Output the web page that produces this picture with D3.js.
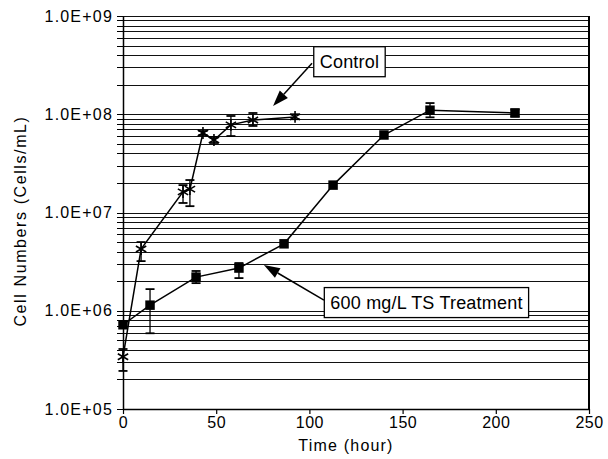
<!DOCTYPE html>
<html>
<head>
<meta charset="utf-8">
<script src="https://cdn.jsdelivr.net/npm/d3@7"></script>
<style>
  body { margin: 0; background: #fff; }
  svg { font-family: "Liberation Sans", Arial, sans-serif; }
</style>
</head>
<body>
<div id="vis"></div>
<script>
// Control (asterisks)
var ctrlTime = [0, 9.7, 32.2, 35.9, 42.9, 48.8, 57.9, 69.7, 92.3];
var ctrlVal  = [3.4e5, 4.25e6, 1.62e7, 1.73e7, 6.44e7, 5.47e7, 7.8e7, 8.73e7, 9.4e7];
var ctrlHi   = [4.08e5, 5.0e6, 1.9e7, 2.14e7, 6.75e7, 5.87e7, 9.6e7, 1.03e8, 1.0e8];
var ctrlLo   = [2.44e5, 3.2e6, 1.25e7, 1.16e7, 6.15e7, 5.1e7, 6.0e7, 7.6e7, 8.9e7];

// 600 mg/L TS treatment (squares)
var trtTime = [0, 14.5, 39.2, 62.2, 86.4, 112.7, 140, 164.7, 210.3];
var trtVal  = [7.2e5, 1.14e6, 2.2e6, 2.72e6, 4.8e6, 1.9e7, 6.15e7, 1.1e8, 1.03e8];
var trtHi   = [7.2e5, 1.66e6, 2.54e6, 3.06e6, 4.8e6, 1.9e7, 6.15e7, 1.3e8, 1.12e8];
var trtLo   = [7.2e5, 5.9e5, 1.91e6, 2.15e6, 4.8e6, 1.9e7, 6.15e7, 9.3e7, 9.5e7];

var xTicks = [0, 50, 100, 150, 200, 250];
var yTicks = [1e5, 1e6, 1e7, 1e8, 1e9];
var yTickLabels = ['1.0E+05', '1.0E+06', '1.0E+07', '1.0E+08', '1.0E+09'];

var width = 608, height = 459,
    margin = {top: 16, right: 19, bottom: 50, left: 123};
var w = width - margin.left - margin.right,
    h = height - margin.top - margin.bottom;

var xScale = d3.scaleLinear().domain([0, 250]).range([0, w]);
var yScale = d3.scaleLog().domain([1e5, 1e9]).range([h, 0]);

var svg = d3.select('#vis').append('svg')
    .attr('width', width).attr('height', height);
var g = svg.append('g')
    .attr('transform', 'translate(' + margin.left + ',' + margin.top + ')');

//grid: every minor log step
var gridVals = [];
for (var e = 5; e < 9; e++) {
  for (var k = 1; k < 10; k++) gridVals.push(k * Math.pow(10, e));
}
gridVals.push(1e9);

g.append('g').attr('class', 'grid y')
  .call(d3.axisLeft(yScale).tickValues(gridVals).tickSize(-w).tickFormat('').tickSizeOuter(0))
  .call(function(s){ s.select('.domain').remove(); })
  .selectAll('line').attr('stroke', '#111').attr('stroke-width', 1)
  .attr('shape-rendering', 'crispEdges');

// short ticks sticking out left of the axis
g.append('g').attr('class', 'axis y')
  .call(d3.axisLeft(yScale).tickValues(gridVals).tickSize(6).tickFormat('').tickSizeOuter(0))
  .call(function(s){ s.select('.domain').attr('stroke', '#000').attr('stroke-width', 1.5); })
  .selectAll('line').attr('stroke', '#000').attr('shape-rendering', 'crispEdges');

g.append('g').attr('class', 'axis y labels')
  .call(d3.axisLeft(yScale).tickValues(yTicks).tickSize(0).tickPadding(10)
        .tickFormat(function(d, i){ return yTickLabels[i]; }))
  .call(function(s){ s.select('.domain').remove(); })
  .selectAll('text')
  .attr('font-size', 16).attr('letter-spacing', 1.2).attr('fill', '#000')
  .attr('font-family', '"Liberation Sans", Arial, sans-serif');

g.append('g').attr('class', 'axis x')
  .attr('transform', 'translate(0,' + h + ')')
  .call(d3.axisBottom(xScale).tickValues(xTicks).tickSize(5).tickPadding(3).tickSizeOuter(0))
  .call(function(s){ s.select('.domain').attr('stroke', '#000').attr('stroke-width', 1.5); })
  .call(function(s){ s.selectAll('line').attr('stroke', '#000').attr('stroke-width', 1.2); })
  .selectAll('text')
  .attr('font-size', 16).attr('letter-spacing', 0.5).attr('fill', '#000')
  .attr('font-family', '"Liberation Sans", Arial, sans-serif');

// right frame
g.append('line')
  .attr('x1', xScale(250)).attr('x2', xScale(250))
  .attr('y1', yScale(1e9)).attr('y2', yScale(1e5))
  .attr('stroke', '#000').attr('stroke-width', 2);

//axis titles
svg.append('text')
  .attr('x', margin.left + xScale(125) - 10).attr('y', 451)
  .attr('text-anchor', 'middle').attr('font-size', 16).attr('letter-spacing', 1.2)
  .text('Time (hour)');
svg.append('text')
  .attr('transform', 'translate(26,' + 221 + ') rotate(-90)')
  .attr('text-anchor', 'middle').attr('font-size', 16).attr('letter-spacing', 1.6)
  .text('Cell Numbers (Cells/mL)');

// series
function makeSeries(t, v, hi, lo) {
  return t.map(function(d, i){ return {t: d, v: v[i], hi: hi[i], lo: lo[i]}; });
}
var ctrl = makeSeries(ctrlTime, ctrlVal, ctrlHi, ctrlLo);
var trt = makeSeries(trtTime, trtVal, trtHi, trtLo);

var line = d3.line()
  .x(function(d){ return xScale(d.t); })
  .y(function(d){ return yScale(d.v); });

function drawSeries(data, symbolType, symSize, filled) {
  var sg = g.append('g');
  sg.append('path').attr('d', line(data))
    .attr('fill', 'none').attr('stroke', '#000').attr('stroke-width', 1.5);
  var eb = sg.selectAll('.err').data(data.filter(function(d){ return d.hi > d.lo; }))
    .enter().append('g').attr('class', 'err');
  eb.append('line')
    .attr('x1', function(d){ return xScale(d.t); }).attr('x2', function(d){ return xScale(d.t); })
    .attr('y1', function(d){ return yScale(d.hi); }).attr('y2', function(d){ return yScale(d.lo); })
    .attr('stroke', '#000').attr('stroke-width', 1.3);
  [ 'hi', 'lo' ].forEach(function(key){
    eb.append('line')
      .attr('x1', function(d){ return xScale(d.t) - 4.5; }).attr('x2', function(d){ return xScale(d.t) + 4.5; })
      .attr('y1', function(d){ return yScale(d[key]); }).attr('y2', function(d){ return yScale(d[key]); })
      .attr('stroke', '#000').attr('stroke-width', 1.8);
  });
  sg.selectAll('.pt').data(data).enter().append('path')
    .attr('transform', function(d){ return 'translate(' + xScale(d.t) + ',' + yScale(d.v) + ')'; })
    .attr('d', d3.symbol().type(symbolType).size(symSize))
    .attr('fill', filled ? '#000' : 'none')
    .attr('stroke', '#000').attr('stroke-width', filled ? 0 : 1.6);
}
drawSeries(ctrl, d3.symbolAsterisk, 100, false);
drawSeries(trt, d3.symbolSquare, 90, true);

// annotations (anchored in data units)
var notes = [
  {label: 'Control', tx: 121.5, ty: 3.45e8, tailT: 101.4, tailV: 3.3e8, tipT: 80.5, tipV: 1.21e8},
  {label: '600 mg/L TS Treatment', tx: 162.8, ty: 1.22e6, tailT: 107.8, tailV: 1.28e6, tipT: 75.6, tipV: 2.93e6}
];

notes.forEach(function(n){
  var ag = g.append('g');
  var txt = ag.append('text')
    .attr('x', xScale(n.tx)).attr('y', yScale(n.ty))
    .attr('dy', '0.35em')
    .attr('text-anchor', 'middle').attr('font-size', 18).attr('letter-spacing', 0.2)
    .text(n.label);
  var bb = txt.node().getBBox();
  ag.insert('rect', 'text')
    .attr('x', bb.x - 6).attr('y', bb.y - 5)
    .attr('width', bb.width + 12).attr('height', bb.height + 10)
    .attr('fill', '#fff').attr('stroke', '#000').attr('stroke-width', 1.3);

  var x1 = xScale(n.tailT), y1 = yScale(n.tailV),
      x2 = xScale(n.tipT), y2 = yScale(n.tipV);
  var ang = Math.atan2(y2 - y1, x2 - x1);
  var len = 16, half = 5.5;
  var bx = x2 - len * Math.cos(ang), by = y2 - len * Math.sin(ang);
  ag.append('line')
    .attr('x1', x1).attr('y1', y1).attr('x2', bx).attr('y2', by)
    .attr('stroke', '#000').attr('stroke-width', 1.5);
  var pts = [
    [x2, y2],
    [bx + half * Math.sin(ang), by - half * Math.cos(ang)],
    [bx - half * Math.sin(ang), by + half * Math.cos(ang)]
  ];
  ag.append('path').attr('d', 'M' + pts.join('L') + 'Z').attr('fill', '#000');
});
</script>
</body>
</html>
